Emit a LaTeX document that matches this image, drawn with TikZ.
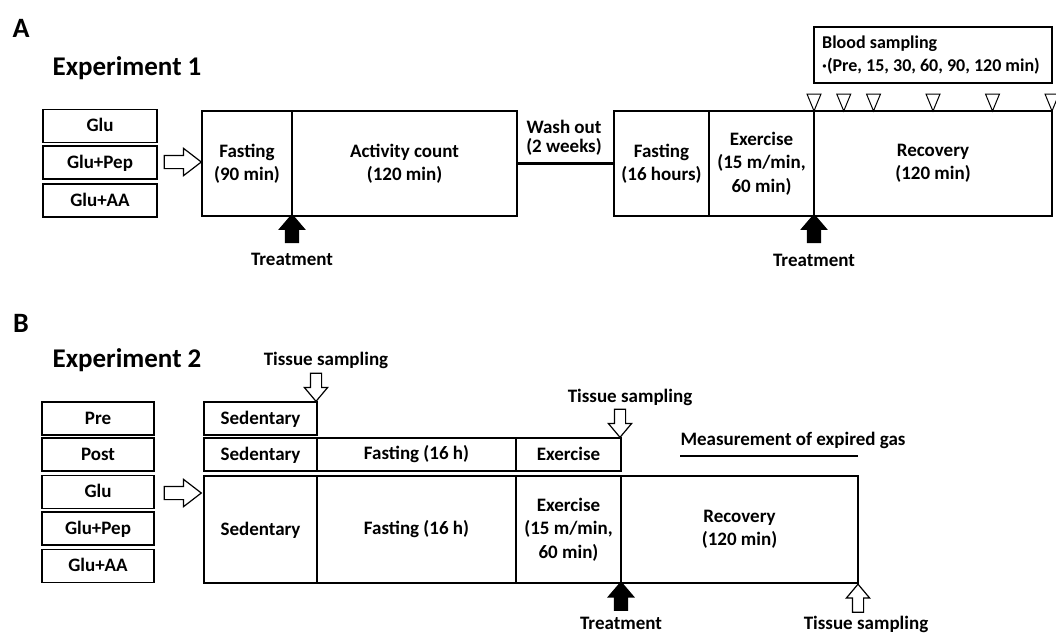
\documentclass[tikz,border=0pt]{standalone}
\usepackage{fontspec}
\setmainfont{Carlito}
\usetikzlibrary{shapes.arrows,calc}

\begin{document}
\begin{tikzpicture}[x=1pt, y=-1pt,
	lbl/.style={font=\fontsize{19}{23.5}\selectfont\bfseries},
	cell/.style={draw, line width=1.8pt, inner sep=0pt, outer sep=0pt, align=center, lbl,
		execute at begin node={\vphantom{(}}},
	grp/.style={cell, minimum width=114, minimum height=33},
	panel/.style={font=\fontsize{28}{28}\selectfont\bfseries},
	title/.style={font=\fontsize{27}{27}\selectfont\bfseries},
	hollowarrow/.style={single arrow, draw, fill=white, line width=1.2pt, inner xsep=0pt, inner ysep=5pt,
		single arrow head extend=6pt, single arrow tip angle=80, minimum height=28, minimum width=22},
	widearrow/.style={hollowarrow, inner ysep=6pt, single arrow head extend=7pt,
		single arrow tip angle=75, minimum height=37, minimum width=26},
	solidarrow/.style={hollowarrow, fill=black, inner ysep=6pt, single arrow head extend=6pt,
		single arrow tip angle=81, minimum width=24},
	]
	\useasboundingbox (0,0) rectangle (1056,633);

	% Experiment 1
	\node[panel] (panA) at (21,28) {A};
	\node[title] (expA) at (127,68) {Experiment 1};

	\foreach \name/\txt/\y in {gluA/Glu/126, pepA/Glu+Pep/162.5, aaA/Glu+AA/200.5}
		\node[grp] (\name) at (100,\y) {\txt};
	\node[widearrow] (inA) at (178.5,162) {};

	\node[cell, minimum width=90, minimum height=105] (fastA) at (247,163.5) {Fasting\\(90 min)};
	\node[cell, anchor=west, minimum width=225, minimum height=105] (actA) at (fastA.east) {Activity count\\(120 min)};
	\node[cell, minimum width=95, minimum height=105] (fast2A) at (661.5,163.5) {Fasting\\(16 hours)};
	\node[cell, anchor=west, minimum width=105, minimum height=105] (exA) at (fast2A.east) {Exercise\\(15 m/min,\\60 min)};
	\node[cell, anchor=west, minimum width=238, minimum height=105] (recA) at (exA.east) {Recovery\\(120 min)};

	\draw[line width=2.2pt] (actA.east) -- (fast2A.west);
	\node[lbl, font=\fontsize{19}{19}\selectfont\bfseries, align=center] (wash) at (564,137.5) {Wash out\\(2 weeks)};

	\node[cell, minimum width=238, minimum height=56] (blood) at (933,55) {};
	\node[lbl, anchor=west, align=left, inner sep=0pt, font=\fontsize{18}{23}\selectfont\bfseries]
		(bloodtxt) at ([xshift=8]blood.west) {Blood sampling\\\textperiodcentered(Pre, 15, 30, 60, 90, 120 min)};
	\foreach \t in {0,15,30,60,90,120}
		\draw[line width=1pt] ($(recA.north west)!{\t/120}!(recA.north east)$) coordinate (bs\t)
			-- ++(-7,-17) -- ++(14,0) -- cycle;

	\node[solidarrow, rotate=90] (trtA) at (292,232.5) {};
	\node[lbl] (trtAlbl) at (292,259) {Treatment};
	\node[solidarrow, rotate=90] (trtA2) at (814,232.5) {};
	\node[lbl] (trtA2lbl) at (814,260) {Treatment};

	% Experiment 2
	\node[panel] (panB) at (21,323) {B};
	\node[title] (expB) at (127,360) {Experiment 2};

	\foreach \name/\txt/\y in {preB/Pre/418.5, postB/Post/454.5, gluB/Glu/492, pepB/Glu+Pep/528.5, aaB/Glu+AA/566}
		\node[grp, minimum width=112] (\name) at (98,\y) {\txt};
	\node[widearrow] (inB) at (178.5,493) {};

	\node[cell, minimum width=113, minimum height=33] (sed1) at (260.5,418.5) {Sedentary};
	\node[cell, minimum width=113, minimum height=33] (sed2) at (260.5,454.5) {Sedentary};
	\node[cell, anchor=west, minimum width=199, minimum height=33] (fast2) at (sed2.east) {Fasting (16 h)};
	\node[cell, anchor=west, minimum width=105, minimum height=33] (ex2) at (fast2.east) {Exercise};
	\node[cell, minimum width=113, minimum height=107] (sed3) at (260.5,529.5) {Sedentary};
	\node[cell, anchor=west, minimum width=199, minimum height=107] (fast3) at (sed3.east) {Fasting (16 h)};
	\node[cell, anchor=west, minimum width=105, minimum height=107] (ex3) at (fast3.east) {Exercise\\(15 m/min,\\60 min)};
	\node[cell, anchor=west, minimum width=237, minimum height=107] (rec3) at (ex3.east) {Recovery\\(120 min)};

	\node[lbl] (ts1) at (326,360) {Tissue sampling};
	\node[hollowarrow, rotate=-90] (ts1arr) at (316,384) {};
	\node[lbl] (ts2) at (630,397) {Tissue sampling};
	\node[hollowarrow, rotate=-90] (ts2arr) at (620,420) {};

	\node[lbl, anchor=west] (gas) at (677,440) {Measurement of expired gas};
	\coordinate (gasL) at (680,456);
	\coordinate (gasR) at (rec3.east |- gasL);
	\draw[line width=2.5pt] (gasL) -- (gasR);

	\node[solidarrow, rotate=90] (trtB) at (621,600) {};
	\node[lbl] (trtBlbl) at (621,623) {Treatment};
	\node[hollowarrow, rotate=90] (ts3arr) at (858,601.5) {};
	\node[lbl] (ts3) at (866,624) {Tissue sampling};
\end{tikzpicture}
\end{document}
